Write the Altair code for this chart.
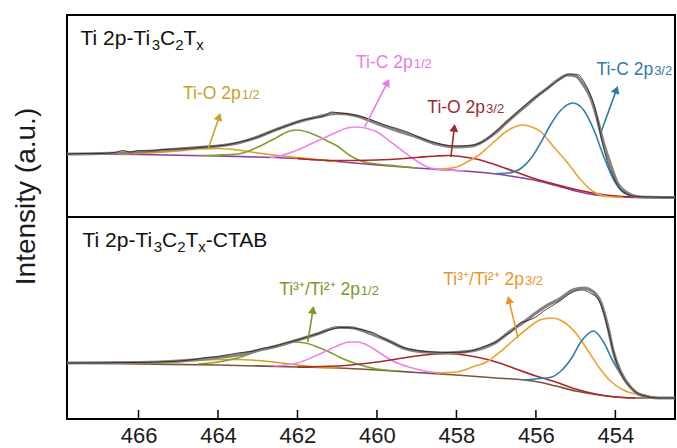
import math
import altair as alt
import pandas as pd

# ---------------- data (binding energy in eV, intensity in a.u.) ----------------
X_DOMAIN = [467.8, 452.5]
TICKS = [466, 464, 462, 460, 458, 456, 454]
PANEL_SHIFT = {"top": 202, "bottom": 0}   # vertical stacking of the two spectra
Y_MAX = 404

# ---- top panel: Ti 2p - Ti3C2Tx ----
top_bg_x = [467.8, 466.0, 464.0, 463.0, 462.0, 461.0, 460.0, 459.0, 458.0, 457.0, 456.5, 456.0, 455.5, 455.0, 454.5, 454.0, 453.5, 452.5]
top_bg_y = [63, 62.5, 61, 60, 58.5, 55.5, 52, 49, 46.5, 43, 40, 36.5, 31.5, 26, 22, 20.5, 19.5, 19.5]

top_fit_x = [467.8, 467.0, 466.0, 465.5, 465.0, 464.5, 464.0, 463.5, 463.0, 462.5, 462.0, 461.5, 461.0, 460.5, 460.0, 459.5, 459.0, 458.5, 458.0, 457.6, 457.2, 457.0, 456.7, 456.5, 456.2, 456.0, 455.7, 455.45, 455.2, 455.0, 454.8, 454.6, 454.45, 454.3, 454.1, 453.95, 453.7, 453.4, 452.5]
top_fit_y = [63, 63.5, 65, 66.5, 68, 69.5, 71, 74, 80, 88, 95, 100, 103.5, 101, 93.5, 86.5, 80, 73, 70, 71, 79, 85, 96, 103, 113, 120, 129, 137, 142, 141, 132, 117, 97, 74, 50, 34, 24, 20, 19.5]

top_raw_x = [467.8, 467.4, 467.0, 466.6, 466.4, 466.2, 466.0, 465.7, 465.4, 465.0, 464.6, 464.2, 463.8, 463.4, 463.0, 462.6, 462.2, 461.9, 461.6, 461.3, 461.15, 460.95, 460.7, 460.4, 460.1, 459.8, 459.5, 459.2, 458.9, 458.6, 458.3, 458.0, 457.7, 457.4, 457.1, 456.8, 456.5, 456.2, 455.9, 455.6, 455.35, 455.15, 454.95, 454.8, 454.65, 454.5, 454.35, 454.2, 454.05, 453.9, 453.7, 453.45, 453.0, 452.5]
top_raw_y = [63, 63.5, 63.5, 64.5, 66.5, 65, 66.5, 66, 67.5, 68, 69, 70.5, 72, 75.5, 80, 86.5, 92, 96.5, 99, 101.5, 105, 104, 103, 100.5, 96.5, 92, 88.5, 84.5, 79, 75, 72, 71, 71.5, 74, 82, 93, 103.5, 114, 123, 132, 139, 143, 142.5, 136, 124, 107, 78, 55, 40, 29, 23, 20.5, 20, 19.5]

top_tio12_x = [466.5, 466.0, 465.5, 465.0, 464.5, 464.0, 463.5, 463.0, 462.5, 462.0, 461.5, 461.0]
top_tio12_y = [62.8, 63.5, 64.5, 66, 68, 68.5, 67, 64, 61.5, 59.5, 57.5, 55.5]

top_tii12_x = [464.5, 464.0, 463.5, 463.0, 462.5, 462.2, 462.0, 461.75, 461.5, 461.2, 461.0, 460.7, 460.4, 460.0, 459.5, 459.0]
top_tii12_y = [61.5, 62, 63, 70, 80, 86, 87, 85, 81, 75, 71, 62, 56, 53, 51, 49]

top_tic12_x = [462.7, 462.5, 462.0, 461.5, 461.0, 460.75, 460.5, 460.25, 460.0, 459.65, 459.15, 458.65, 458.2, 457.8]
top_tic12_y = [59.5, 60.5, 67, 76, 85, 89, 90, 88.5, 85, 75, 60, 49, 47, 45.8]

top_tio32_x = [462.0, 461.0, 460.0, 459.0, 458.5, 458.2, 457.9, 457.5, 457.0, 456.5, 456.0, 455.5, 455.0, 454.5, 454.0, 453.5]
top_tio32_y = [58.5, 56.5, 57, 59.5, 61, 61.5, 60.5, 58, 52, 45, 38, 32.5, 27.5, 23.5, 21, 20]

top_tii32_x = [458.4, 458.0, 457.64, 457.4, 457.2, 457.0, 456.8, 456.6, 456.33, 456.1, 455.87, 455.55, 455.2, 454.87, 454.54, 454.2, 453.8]
top_tii32_y = [48, 50, 57, 63, 70, 77, 84, 89, 92, 90, 85, 70, 54, 37, 25, 20.5, 19.5]

top_tic32_x = [457.0, 456.7, 456.4, 456.1, 455.87, 455.62, 455.37, 455.07, 454.8, 454.54, 454.29, 454.04, 453.78, 453.5, 453.0]
top_tic32_y = [43.5, 44, 48, 60, 75, 93, 107, 114, 107, 87, 60, 37, 24, 20.5, 19.5]

# ---- bottom panel: Ti 2p - Ti3C2Tx-CTAB ----
bot_bg_x = [467.8, 466.0, 464.0, 462.0, 461.0, 460.0, 459.0, 458.0, 457.0, 456.0, 455.5, 455.0, 454.5, 454.0, 453.5, 452.5]
bot_bg_y = [56, 55, 54, 52, 51, 49, 46.5, 44, 41, 37.5, 33, 28, 24.5, 22, 21, 21]

bot_fit_x = [467.8, 466.0, 465.0, 464.5, 464.0, 463.5, 463.0, 462.5, 462.0, 461.5, 461.0, 460.7, 460.4, 460.2, 459.95, 459.7, 459.3, 458.8, 458.3, 458.0, 457.5, 457.2, 457.0, 456.6, 456.3, 456.0, 455.7, 455.4, 455.07, 454.8, 454.55, 454.37, 454.2, 454.05, 453.87, 453.6, 453.36, 452.9, 452.5]
bot_fit_y = [56, 56.5, 58, 59.5, 61.5, 64, 68.5, 73, 79, 85, 91.5, 91.5, 89, 86, 82, 78, 70.5, 67, 66, 66.5, 69, 73, 77, 89, 97, 106, 114, 120, 129, 131, 127, 117, 94, 67, 47, 31, 24, 21, 21]

bot_raw_x = [467.8, 467.0, 466.5, 466.0, 465.5, 465.0, 464.6, 464.3, 464.0, 463.8, 463.5, 463.3, 463.1, 462.9, 462.6, 462.3, 462.0, 461.6, 461.2, 460.9, 460.6, 460.45, 460.3, 460.1, 459.85, 459.6, 459.3, 459.0, 458.6, 458.2, 457.8, 457.5, 457.2, 457.0, 456.8, 456.6, 456.4, 456.2, 456.0, 455.8, 455.6, 455.4, 455.2, 455.0, 454.85, 454.7, 454.6, 454.45, 454.3, 454.15, 454.0, 453.85, 453.6, 453.35, 452.9, 452.5]
bot_raw_y = [56, 56, 56.5, 56.5, 57, 58, 59.5, 61.5, 62.5, 64, 66, 67, 68, 70.5, 72.5, 76, 79, 84, 89, 91.5, 91, 90, 88.5, 86.5, 81, 76, 71, 68.5, 67, 66.5, 67, 69.5, 74, 77, 83, 88, 96, 98.5, 102, 108, 113, 118, 124, 128, 129, 127.5, 125, 121, 107, 84, 60, 45, 31, 24, 21, 21]

bot_tio12_x = [465.8, 465.0, 464.5, 464.0, 463.5, 463.0, 462.5, 462.0, 461.5, 461.0]
bot_tio12_y = [55.5, 57, 58.5, 59.5, 59.5, 58.5, 56.5, 54, 52, 51]

bot_tii12_x = [464.5, 464.0, 463.5, 463.0, 462.5, 462.1, 461.8, 461.5, 461.2, 460.9, 460.5, 460.0, 459.5]
bot_tii12_y = [55, 57, 61, 68, 74, 77, 76, 72, 67, 61, 55, 50, 48]

bot_tic12_x = [462.6, 462.0, 461.5, 461.0, 460.7, 460.5, 460.2, 460.0, 459.6, 459.2, 458.8, 458.4]
bot_tic12_y = [53, 56, 64, 73, 77, 77, 73, 68, 58, 52, 48, 46]

bot_tio32_x = [462.0, 461.0, 460.0, 459.5, 459.0, 458.5, 458.2, 458.0, 457.5, 457.0, 456.5, 456.0, 455.5, 455.0, 454.5, 454.0, 453.5]
bot_tio32_y = [52, 53, 57, 60, 63, 65, 65.5, 65, 62, 57, 50, 43, 37, 30, 25, 22, 21]

bot_tii32_x = [458.5, 458.0, 457.6, 457.2, 457.0, 456.7, 456.5, 456.2, 455.9, 455.6, 455.3, 455.0, 454.7, 454.4, 454.1, 453.8, 453.4, 453.0]
bot_tii32_y = [46, 47, 52, 58, 64, 74, 81, 91, 99, 101, 97, 86, 69, 51, 37, 29, 24, 21]

bot_tic32_x = [456.3, 455.9, 455.6, 455.4, 455.1, 454.87, 454.55, 454.3, 454.05, 453.8, 453.55, 453.2, 452.9]
bot_tic32_y = [39, 40.5, 42, 47, 61, 77, 88, 77, 57, 41, 29, 23, 21]

# ---- annotations ----
# panel titles as (text, is_subscript) pieces
title_top_pieces = [("Ti 2p-Ti", 0), ("3", 1), ("C", 0), ("2", 1), ("T", 0), ("x", 1)]
title_bot_pieces = [("Ti 2p-Ti", 0), ("3", 1), ("C", 0), ("2", 1), ("T", 0), ("x", 1), ("-CTAB", 0)]
panel_title_x = [467.46, 467.41]
panel_title_y = [172, 172]

label_main = ["Ti-O 2p", "Ti-C 2p", "Ti-O 2p", "Ti-C 2p", "Ti\u00b3\u207a/Ti\u00b2\u207a 2p", "Ti\u00b3\u207a/Ti\u00b2\u207a 2p"]
label_sub = ["1/2", "1/2", "3/2", "3/2", "1/2", "3/2"]
label_panel = ["top", "top", "top", "top", "bottom", "bottom"]
label_x = [463.43, 459.10, 457.28, 453.05, 460.43, 456.30]
label_y = [118, 149, 104, 142, 124, 134]
label_color = ["#c9a227", "#e57ce5", "#9e2a2b", "#2f7ba6", "#7b9a2b", "#e8962b"]

arrow_tail_x = [464.24, 460.31, 458.14, 454.36, 461.74, 456.45]
arrow_tail_y = [69, 90, 60, 85, 77, 81]
arrow_head_x = [463.93, 459.68, 458.04, 453.93, 461.59, 456.71]
arrow_head_y = [105, 139, 94, 132, 114, 124]

# ---------------- build tables ----------------
curves = [
    ("top", "bg_top", top_bg_x, top_bg_y),
    ("top", "tio12", top_tio12_x, top_tio12_y),
    ("top", "tii12", top_tii12_x, top_tii12_y),
    ("top", "tic12", top_tic12_x, top_tic12_y),
    ("top", "tio32", top_tio32_x, top_tio32_y),
    ("top", "tii32", top_tii32_x, top_tii32_y),
    ("top", "tic32", top_tic32_x, top_tic32_y),
    ("bottom", "bg_bot", bot_bg_x, bot_bg_y),
    ("bottom", "tio12", bot_tio12_x, bot_tio12_y),
    ("bottom", "tii12", bot_tii12_x, bot_tii12_y),
    ("bottom", "tic12", bot_tic12_x, bot_tic12_y),
    ("bottom", "tio32", bot_tio32_x, bot_tio32_y),
    ("bottom", "tii32", bot_tii32_x, bot_tii32_y),
    ("bottom", "tic32", bot_tic32_x, bot_tic32_y),
]
comp_colors = {
    "bg_top": "#8c3f9c", "bg_bot": "#7a5536",
    "tio12": "#d4a21c", "tii12": "#7f9e2e", "tic12": "#ee82ee",
    "tio32": "#a8282c", "tii32": "#f0a02e", "tic32": "#2f7fae",
}


def table(items):
    rows = []
    for panel, name, xs, ys in items:
        for x, y in zip(xs, ys):
            rows.append({"series": panel + "-" + name, "curve": name,
                         "be": x, "I": y + PANEL_SHIFT[panel]})
    return pd.DataFrame(rows)


comp_df = table(curves)
raw_df = table([("top", "raw", top_raw_x, top_raw_y), ("bottom", "raw", bot_raw_x, bot_raw_y)])
fit_df = table([("top", "fit", top_fit_x, top_fit_y), ("bottom", "fit", bot_fit_x, bot_fit_y)])

W, H = 608, 404
ppx = W / (X_DOMAIN[0] - X_DOMAIN[1])
ppy = H / Y_MAX

# Arial / Liberation Sans advance widths (em)
ADV = {"T": 0.611, "i": 0.222, " ": 0.278, "2": 0.556, "p": 0.556, "-": 0.333, "3": 0.556,
       "C": 0.722, "x": 0.5, "A": 0.667, "B": 0.667}
TITLE_FS, TITLE_SUB_FS = 21, 15

title_rows = []
for pieces, x0, y0, panel in [(title_top_pieces, panel_title_x[0], panel_title_y[0], "top"),
                              (title_bot_pieces, panel_title_x[1], panel_title_y[1], "bottom")]:
    cum = 0.0
    for txt, sub in pieces:
        fs = TITLE_SUB_FS if sub else TITLE_FS
        title_rows.append({"text": txt, "sub": sub, "be": x0 - cum / ppx,
                           "I": y0 + PANEL_SHIFT[panel]})
        cum += sum(ADV[c] for c in txt) * fs
title_df = pd.DataFrame(title_rows)

label_df = pd.DataFrame({
    "main": label_main, "sub": label_sub, "be": label_x,
    "I": [y + PANEL_SHIFT[p] for y, p in zip(label_y, label_panel)],
    "color": label_color,
})

arrows = []
for i in range(len(arrow_tail_x)):
    sh = PANEL_SHIFT[label_panel[i]]
    tx, ty = arrow_tail_x[i], arrow_tail_y[i] + sh
    hx, hy = arrow_head_x[i], arrow_head_y[i] + sh
    dxp = (tx - hx) * ppx
    dyp = -(hy - ty) * ppy
    L = math.hypot(dxp, dyp)
    ang = math.degrees(math.atan2(dxp, -dyp)) % 360
    back = 5.0 / L
    arrows.append({
        "x1": tx, "y1": ty,
        "x2": hx + (tx - hx) * back * 1.2, "y2": hy + (ty - hy) * back * 1.2,
        "hx": hx + (tx - hx) * back, "hy": hy + (ty - hy) * back,
        "angle": ang, "color": label_color[i],
    })
arrow_df = pd.DataFrame(arrows)
tick_df = pd.DataFrame({"be": TICKS})

FONT = "Liberation Sans"
xs = alt.Scale(domain=X_DOMAIN, nice=False, zero=False)
ys = alt.Scale(domain=[0, Y_MAX], nice=False, zero=False)

X = alt.X("be:Q", scale=xs, axis=alt.Axis(values=TICKS, title=None, ticks=False, domain=False,
                                           grid=False, labelFontSize=22, labelFont=FONT,
                                           labelColor="#1a1a1a", labelPadding=6, format="d"))
Y = alt.Y("I:Q", scale=ys, axis=alt.Axis(title="Intensity (a.u.)", labels=False, ticks=False,
                                          domain=False, grid=False, titleFontSize=28,
                                          titleFont=FONT, titleFontWeight="normal",
                                          titleColor="#1a1a1a", titleAngle=270,
                                          titleAlign="center", titleBaseline="alphabetic",
                                          titleX=-33, titleY=181))

order = alt.Order("be:Q", sort="descending")

comp_layer = alt.Chart(comp_df).mark_line(interpolate="monotone", strokeWidth=1.6).encode(
    x=X, y=Y, detail="series:N", order=order,
    color=alt.Color("curve:N", scale=alt.Scale(domain=list(comp_colors.keys()),
                                                range=list(comp_colors.values())), legend=None),
)
fit_layer = alt.Chart(fit_df).mark_line(interpolate="monotone", strokeWidth=3.2, color="#8a817c").encode(
    x="be:Q", y="I:Q", detail="series:N", order=order)
raw_layer = alt.Chart(raw_df).mark_line(interpolate="monotone", strokeWidth=1.0, color="#1c1c1c",
                                        opacity=0.8).encode(
    x="be:Q", y="I:Q", detail="series:N", order=order)

divider = alt.Chart(tick_df).mark_rule(color="black", strokeWidth=2).encode(y=alt.datum(PANEL_SHIFT["top"]))
ticks = alt.Chart(tick_df).mark_rule(color="black", strokeWidth=1.5).encode(
    x="be:Q", y=alt.value(H - 9), y2=alt.value(H))

title_main = alt.Chart(title_df).transform_filter("datum.sub == 0").mark_text(
    align="left", baseline="alphabetic", fontSize=TITLE_FS, font=FONT, color="#111111").encode(
    x="be:Q", y="I:Q", text="text:N")
title_sub = alt.Chart(title_df).transform_filter("datum.sub == 1").mark_text(
    align="left", baseline="alphabetic", fontSize=TITLE_SUB_FS, font=FONT, color="#111111",
    dy=5).encode(x="be:Q", y="I:Q", text="text:N")
lab_main = alt.Chart(label_df).mark_text(align="right", baseline="alphabetic", fontSize=17.5,
                                         font=FONT).encode(
    x="be:Q", y="I:Q", text="main:N", color=alt.Color("color:N", scale=None))
lab_sub = alt.Chart(label_df).mark_text(align="left", baseline="alphabetic", fontSize=13,
                                        font=FONT, dx=1).encode(
    x="be:Q", y="I:Q", text="sub:N", color=alt.Color("color:N", scale=None))
arrow_lines = alt.Chart(arrow_df).mark_rule(strokeWidth=1.6).encode(
    x="x1:Q", y="y1:Q", x2="x2:Q", y2="y2:Q", color=alt.Color("color:N", scale=None))
arrow_heads = alt.Chart(arrow_df).mark_point(shape="triangle-up", filled=True, size=80,
                                             opacity=1).encode(
    x="hx:Q", y="hy:Q", angle=alt.Angle("angle:Q", scale=None),
    color=alt.Color("color:N", scale=None))

chart = alt.layer(
    comp_layer, fit_layer, raw_layer, divider, ticks, title_main, title_sub, lab_main, lab_sub,
    arrow_lines, arrow_heads,
).properties(
    width=W, height=H,
    padding={"left": 67, "top": 15, "right": 2, "bottom": 29},
    autosize=alt.AutoSizeParams(type="none"),
    background="white",
).configure(font=FONT).configure_view(stroke="#000000", strokeWidth=2, strokeOpacity=1)

chart.save("out.html", embed_options={"renderer": "svg", "actions": False})
